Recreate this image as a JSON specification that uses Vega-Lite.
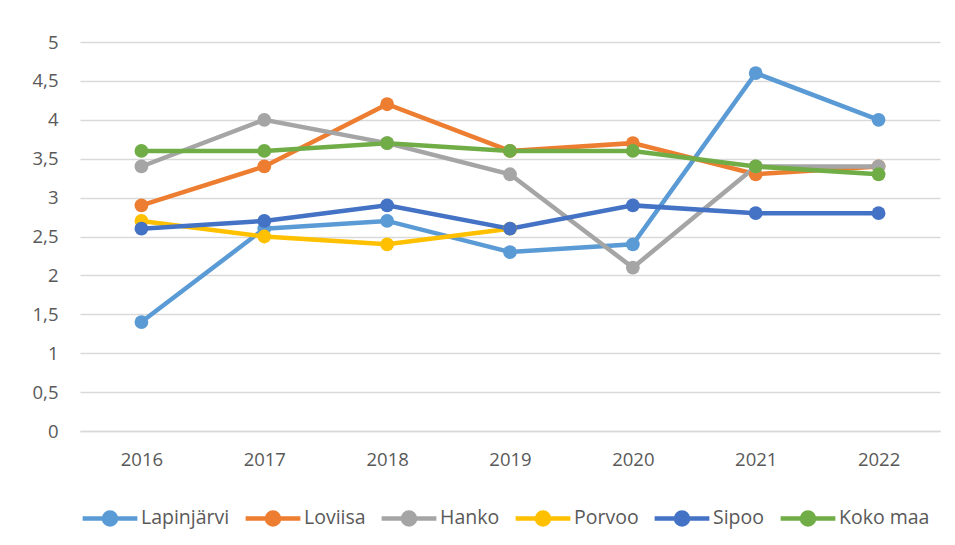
{
  "$schema": "https://vega.github.io/schema/vega-lite/v6.json",
  "width": 860,
  "height": 389,
  "autosize": {"type": "none"},
  "padding": {"left": 80, "top": 42, "right": 15, "bottom": 114},
  "background": "white",
  "config": {
    "locale": {"number": {"decimal": ",", "thousands": " ", "grouping": [3], "currency": ["", " €"]}},
    "view": {"stroke": null},
    "font": "Open Sans",
    "axis": {"labelColor": "#595959", "labelFontSize": 18.5, "labelFont": "Open Sans"}
  },
  "data": {
    "values": [
      {"year": "2016", "series": "Lapinjärvi", "value": 1.4},
      {"year": "2017", "series": "Lapinjärvi", "value": 2.6},
      {"year": "2018", "series": "Lapinjärvi", "value": 2.7},
      {"year": "2019", "series": "Lapinjärvi", "value": 2.3},
      {"year": "2020", "series": "Lapinjärvi", "value": 2.4},
      {"year": "2021", "series": "Lapinjärvi", "value": 4.6},
      {"year": "2022", "series": "Lapinjärvi", "value": 4.0},
      {"year": "2016", "series": "Loviisa", "value": 2.9},
      {"year": "2017", "series": "Loviisa", "value": 3.4},
      {"year": "2018", "series": "Loviisa", "value": 4.2},
      {"year": "2019", "series": "Loviisa", "value": 3.6},
      {"year": "2020", "series": "Loviisa", "value": 3.7},
      {"year": "2021", "series": "Loviisa", "value": 3.3},
      {"year": "2022", "series": "Loviisa", "value": 3.4},
      {"year": "2016", "series": "Hanko", "value": 3.4},
      {"year": "2017", "series": "Hanko", "value": 4.0},
      {"year": "2018", "series": "Hanko", "value": 3.7},
      {"year": "2019", "series": "Hanko", "value": 3.3},
      {"year": "2020", "series": "Hanko", "value": 2.1},
      {"year": "2021", "series": "Hanko", "value": 3.4},
      {"year": "2022", "series": "Hanko", "value": 3.4},
      {"year": "2016", "series": "Porvoo", "value": 2.7},
      {"year": "2017", "series": "Porvoo", "value": 2.5},
      {"year": "2018", "series": "Porvoo", "value": 2.4},
      {"year": "2019", "series": "Porvoo", "value": 2.6},
      {"year": "2016", "series": "Sipoo", "value": 2.6},
      {"year": "2017", "series": "Sipoo", "value": 2.7},
      {"year": "2018", "series": "Sipoo", "value": 2.9},
      {"year": "2019", "series": "Sipoo", "value": 2.6},
      {"year": "2020", "series": "Sipoo", "value": 2.9},
      {"year": "2021", "series": "Sipoo", "value": 2.8},
      {"year": "2022", "series": "Sipoo", "value": 2.8},
      {"year": "2016", "series": "Koko maa", "value": 3.6},
      {"year": "2017", "series": "Koko maa", "value": 3.6},
      {"year": "2018", "series": "Koko maa", "value": 3.7},
      {"year": "2019", "series": "Koko maa", "value": 3.6},
      {"year": "2020", "series": "Koko maa", "value": 3.6},
      {"year": "2021", "series": "Koko maa", "value": 3.4},
      {"year": "2022", "series": "Koko maa", "value": 3.3}
    ]
  },
  "encoding": {
    "x": {
      "field": "year", "type": "ordinal",
      "scale": {"type": "point", "padding": 0.5},
      "axis": {"title": null, "labelAngle": 0, "domainColor": "#D9D9D9", "domainWidth": 1.5, "ticks": false, "labelPadding": 19, "grid": false}
    },
    "y": {
      "field": "value", "type": "quantitative",
      "scale": {"domain": [0, 5], "nice": false},
      "axis": {"title": null, "values": [0, 0.5, 1, 1.5, 2, 2.5, 3, 3.5, 4, 4.5, 5], "format": ".1~f", "domain": false, "ticks": false, "labelPadding": 22, "gridColor": "#D9D9D9", "gridWidth": 1.5}
    },
    "color": {
      "field": "series", "type": "nominal",
      "scale": {
        "domain": ["Lapinjärvi", "Loviisa", "Hanko", "Porvoo", "Sipoo", "Koko maa"],
        "range": ["#5B9BD5", "#ED7D31", "#A5A5A5", "#FFC000", "#4472C4", "#70AD47"]
      },
      "legend": {
        "orient": "bottom", "direction": "horizontal", "title": null,
        "offset": 19,
        "symbolType": "M-1,0L1,0M-0.22,0A0.22,0.22,0,1,0,0.22,0A0.22,0.22,0,1,0,-0.22,0Z",
        "symbolSize": 3000,
        "symbolStrokeWidth": 4.5,
        "labelFontSize": 19.5, "labelColor": "#595959", "labelFont": "Open Sans",
        "columnPadding": 6, "labelOffset": 1
      }
    }
  },
  "layer": [
    {"mark": {"type": "line", "strokeWidth": 4.5}},
    {"mark": {"type": "point", "filled": true, "opacity": 1, "size": 190}}
  ]
}
